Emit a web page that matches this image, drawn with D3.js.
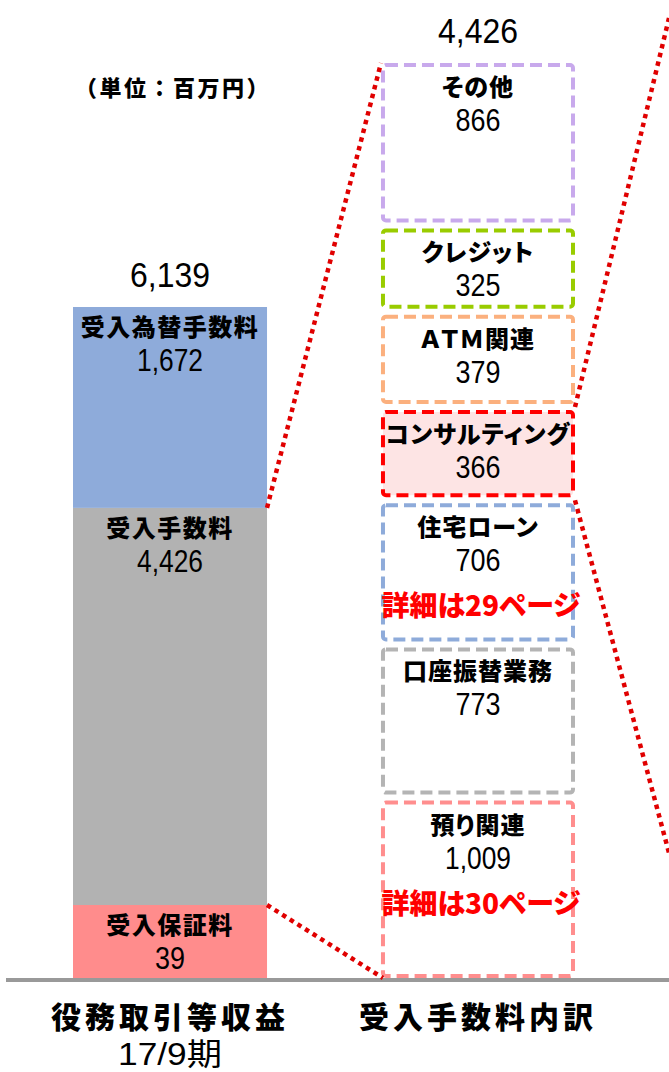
<!DOCTYPE html>
<html>
<head>
<meta charset="utf-8">
<script src="https://cdn.jsdelivr.net/npm/d3@7"></script>
<style>
  body { margin: 0; background: #fff; }
  text { font-family: "Noto Sans CJK JP", sans-serif; }
  .lab, .note, .cat { font-feature-settings: "palt"; }
  .num, .sub { font-family: "Liberation Sans", Arial, "Noto Sans CJK JP", sans-serif; }
</style>
</head>
<body>
<div id="plotDiv"></div>
<script>
// --- data ---
const columns = ["役務取引等収益", "受入手数料内訳"];
const columnSub = ["17/9期", ""];
const columnTotals = [6139, 4426];

const leftLabels = ["受入保証料", "受入手数料", "受入為替手数料"];
const leftValues = [39, 4426, 1672];
const leftColors = ["#ff8c8c", "#b2b2b2", "#8eabda"];

const rightLabels = ["預り関連", "口座振替業務", "住宅ローン", "コンサルティング", "ＡＴＭ関連", "クレジット", "その他"];
const rightValues = [1009, 773, 706, 366, 379, 325, 866];
const rightNotes = ["詳細は30ページ", "", "詳細は29ページ", "", "", "", ""];
const rightColors = ["#ff8e8e", "#b4b4b4", "#8eabda", "#ff0000", "#fbb07e", "#99cc00", "#c8a9ec"];
const rightFills = ["#fff", "#fff", "#fff", "#fde4e4", "#fff", "#fff", "#fff"];

const unitLabel = "（単位：百万円）";

const width = 669, height = 1072;
const baseY = 978;

const svg = d3.select("#plotDiv").append("svg")
    .attr("width", width)
    .attr("height", height);

// columns placed with a band scale
const xScale = d3.scaleBand()
    .domain(columns)
    .range([73, 575])
    .paddingInner(0.37)
    .paddingOuter(0);
const bw = xScale.bandwidth();

const fmt = d3.format(",");
// original digits are tall and narrow -> squeeze text to a set length
function numLen(s, dw, cw) {
    return s.split("").reduce((a, c) => a + (c === "," ? cw : dw), 0);
}

// segment heights are compressed (small items enlarged, as in the original)
const emphasis = d3.scalePow().exponent(0.7).domain([0, 1]).range([0, 1]);

function stackLayout(values, top, bottom, gap, minH) {
    const w = values.map(v => emphasis(v));
    const avail = bottom - top - gap * (values.length - 1);
    let lin = d3.scaleLinear().domain([0, d3.sum(w)]).range([0, avail]);
    const small = w.map(d => lin(d) < minH);
    const nSmall = small.filter(Boolean).length;
    lin = d3.scaleLinear()
        .domain([0, d3.sum(w.filter((d, i) => !small[i]))])
        .range([0, avail - nSmall * minH]);
    let y = bottom;
    return values.map((v, i) => {
        const h = small[i] ? minH : lin(w[i]);
        const seg = {y0: y - h, y1: y};
        y -= h + gap;
        return seg;
    });
}

const leftSeg = stackLayout(leftValues, 307, baseY, 0, 73);
const rightSeg = stackLayout(rightValues, 63, baseY, 6, 0);

const lx = xScale(columns[0]);
const rx = xScale(columns[1]);

// --- left stacked bar ---
const left = svg.append("g");
left.selectAll("rect")
    .data(leftValues)
    .enter().append("rect")
    .attr("x", lx)
    .attr("y", (d, i) => leftSeg[i].y0)
    .attr("width", bw)
    .attr("height", (d, i) => leftSeg[i].y1 - leftSeg[i].y0)
    .style("fill", (d, i) => leftColors[i]);

left.selectAll(".lab")
    .data(leftLabels)
    .enter().append("text")
    .attr("class", "lab")
    .attr("x", lx + bw / 2)
    .attr("y", (d, i) => leftSeg[i].y0 + 29)
    .attr("text-anchor", "middle")
    .style("font-size", "24px")
    .style("font-weight", "900")
    .style("letter-spacing", "1.5px")
    .text(d => d);

left.selectAll(".num")
    .data(leftValues)
    .enter().append("text")
    .attr("class", "num")
    .attr("x", lx + bw / 2)
    .attr("y", (d, i) => leftSeg[i].y0 + 64)
    .attr("text-anchor", "middle")
    .attr("textLength", d => numLen(fmt(d), 15, 6))
    .attr("lengthAdjust", "spacingAndGlyphs")
    .style("font-size", "31px")
    .text(d => fmt(d));

// --- right breakdown boxes ---
const right = svg.append("g");
right.selectAll("rect")
    .data(rightValues)
    .enter().append("rect")
    .attr("x", rx + 2)
    .attr("y", (d, i) => rightSeg[i].y0 + 2)
    .attr("width", bw - 4)
    .attr("height", (d, i) => rightSeg[i].y1 - rightSeg[i].y0 - 4)
    .attr("rx", 3)
    .style("fill", (d, i) => rightFills[i])
    .style("stroke", (d, i) => rightColors[i])
    .style("stroke-width", 4)
    .style("stroke-dasharray", "12,6");

right.selectAll(".lab")
    .data(rightLabels)
    .enter().append("text")
    .attr("class", "lab")
    .attr("x", rx + bw / 2)
    .attr("y", (d, i) => rightSeg[i].y0 + 33)
    .attr("text-anchor", "middle")
    .style("font-size", "24px")
    .style("font-weight", "900")
    .style("letter-spacing", "1px")
    .text(d => d);

right.selectAll(".num")
    .data(rightValues)
    .enter().append("text")
    .attr("class", "num")
    .attr("x", rx + bw / 2)
    .attr("y", (d, i) => rightSeg[i].y0 + 68)
    .attr("text-anchor", "middle")
    .attr("textLength", d => numLen(fmt(d), 15, 6))
    .attr("lengthAdjust", "spacingAndGlyphs")
    .style("font-size", "31px")
    .text(d => fmt(d));

right.selectAll(".note")
    .data(rightNotes)
    .enter().append("text")
    .attr("class", "note")
    .attr("x", rx + bw / 2 + 3)
    .attr("y", (d, i) => rightSeg[i].y0 + 113)
    .attr("text-anchor", "middle")
    .style("font-size", "28px")
    .style("font-weight", "900")
    .style("fill", "#ff0000")
    .text(d => d);

// --- baseline ---
svg.append("line")
    .attr("x1", 6).attr("x2", width)
    .attr("y1", baseY + 2).attr("y2", baseY + 2)
    .style("stroke", "#999")
    .style("stroke-width", 4);

// --- dotted connectors ---
const gray = leftSeg[1];
const consult = rightSeg[3];
const connectors = [
    [[lx + bw, gray.y0], [rx, rightSeg[6].y0]],
    [[lx + bw, gray.y1], [rx + 2, baseY]],
    [[rx + bw, consult.y0 - 3], [width, 18]],
    [[rx + bw, consult.y1 + 3], [width, 853]]
];
svg.selectAll(".conn")
    .data(connectors)
    .enter().append("line")
    .attr("class", "conn")
    .attr("x1", d => d[0][0]).attr("y1", d => d[0][1])
    .attr("x2", d => d[1][0]).attr("y2", d => d[1][1])
    .style("stroke", "#e00000")
    .style("stroke-width", 4.5)
    .style("stroke-dasharray", "4.5,4.5");

// --- totals above columns ---
svg.selectAll(".total")
    .data(columnTotals)
    .enter().append("text")
    .attr("class", "num total")
    .attr("x", (d, i) => xScale(columns[i]) + bw / 2)
    .attr("y", (d, i) => (i === 0 ? leftSeg[2].y0 : rightSeg[6].y0) - 20)
    .attr("text-anchor", "middle")
    .attr("textLength", d => numLen(fmt(d), 18, 8))
    .attr("lengthAdjust", "spacingAndGlyphs")
    .style("font-size", "35px")
    .text(d => fmt(d));

// --- category labels ---
svg.selectAll(".cat")
    .data(columns)
    .enter().append("text")
    .attr("class", "cat")
    .attr("x", d => xScale(d) + bw / 2)
    .attr("y", 1028)
    .attr("text-anchor", "middle")
    .style("font-size", "30px")
    .style("font-weight", "900")
    .style("letter-spacing", "4px")
    .text(d => d);

svg.selectAll(".sub")
    .data(columnSub)
    .enter().append("text")
    .attr("class", "sub")
    .attr("x", (d, i) => xScale(columns[i]) + bw / 2)
    .attr("y", 1065)
    .attr("text-anchor", "middle")
    .attr("textLength", d => d ? 104 : null)
    .attr("lengthAdjust", "spacingAndGlyphs")
    .style("font-size", "31px")
    .text(d => d);

// --- unit ---
svg.append("text")
    .attr("x", 173)
    .attr("y", 96)
    .attr("text-anchor", "middle")
    .style("font-size", "22px")
    .style("font-weight", "900")
    .style("letter-spacing", "2.5px")
    .text(unitLabel);
</script>
</body>
</html>
